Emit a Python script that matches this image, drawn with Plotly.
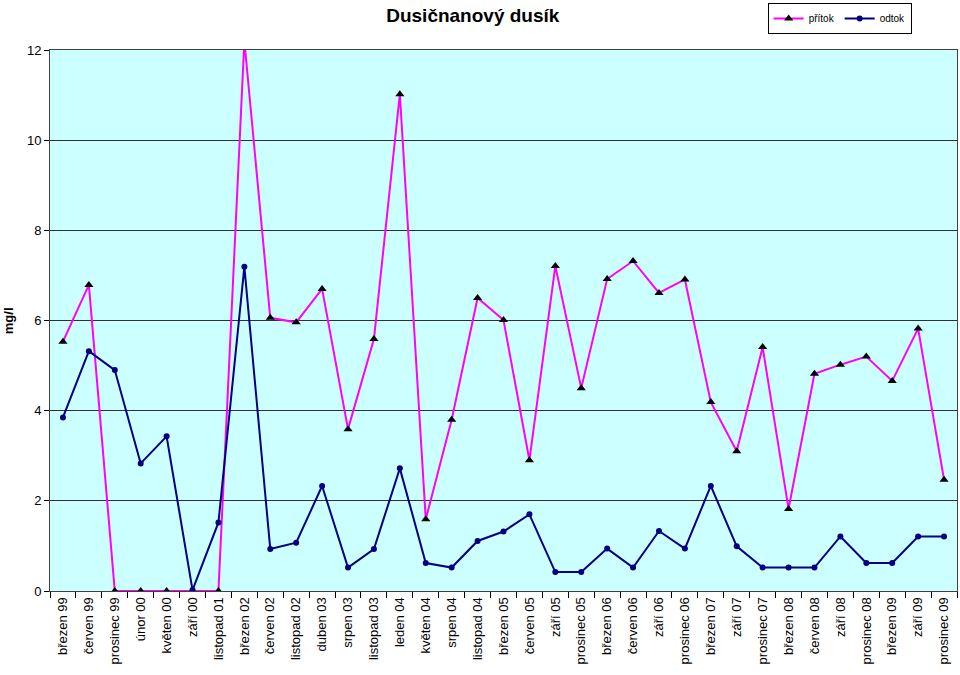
"""
Dusičnanový dusík - přítok / odtok
"""
import plotly.graph_objects as go

months = [
    'březen 99', 'červen 99', 'prosinec 99', 'únor 00', 'květen 00', 'září 00',
    'listopad 01', 'březen 02', 'červen 02', 'listopad 02', 'duben 03', 'srpen 03',
    'listopad 03', 'leden 04', 'květen 04', 'srpen 04', 'listopad 04', 'březen 05',
    'červen 05', 'září 05', 'prosinec 05', 'březen 06', 'červen 06', 'září 06',
    'prosinec 06', 'březen 07', 'září 07', 'prosinec 07', 'březen 08', 'červen 08',
    'září 08', 'prosinec 08', 'březen 09', 'září 09', 'prosinec 09'
]

pritok = [
    5.53, 6.79, 0, 0, 0, 0, 0, 12.2, 6.06, 5.96, 6.70, 3.59,
    5.59, 11.02, 1.59, 3.80, 6.50, 6.01, 2.90, 7.21, 4.50, 6.92,
    7.32, 6.61, 6.91, 4.19, 3.10, 5.41, 1.82, 4.82, 5.02, 5.20,
    4.66, 5.82, 2.47
]

odtok = [
    3.85, 5.32, 4.90, 2.83, 3.43, 0.02, 1.52, 7.19, 0.93, 1.07, 2.33, 0.52,
    0.93, 2.72, 0.62, 0.52, 1.11, 1.32, 1.70, 0.42, 0.42, 0.94,
    0.52, 1.33, 0.94, 2.33, 0.99, 0.52, 0.52, 0.52, 1.21, 0.62,
    0.62, 1.21, 1.21
]

y_ticks = [0, 2, 4, 6, 8, 10, 12]

fig = go.Figure()

fig.add_trace(go.Scatter(
    x=months, y=pritok, name='přítok',
    mode='lines+markers',
    line=dict(color='#FF00FF', width=2),
    marker=dict(symbol='triangle-up', size=8, color='black'),
    cliponaxis=True
))

fig.add_trace(go.Scatter(
    x=months, y=odtok, name='odtok',
    mode='lines+markers',
    line=dict(color='#000080', width=2),
    marker=dict(symbol='circle', size=6, color='#000080'),
    cliponaxis=True
))

# y axis title as a free annotation so it does not push the margin
fig.add_annotation(
    text='<b>mg/l</b>', textangle=-90,
    xref='paper', yref='paper', x=-0.0455, y=0.5,
    xanchor='center', yanchor='middle',
    showarrow=False, font=dict(size=13)
)

fig.update_layout(
    width=960,
    height=675,
    margin=dict(l=50, r=3, t=50, b=84),
    paper_bgcolor='white',
    plot_bgcolor='#CCFFFF',
    font=dict(family='Liberation Sans, Arial', size=13, color='black'),
    title=dict(
        text='<b>Dusičnanový dusík</b>',
        x=0.4925, xref='container', xanchor='center',
        y=0.978, yref='container', yanchor='middle',
        font=dict(size=19, family='Liberation Sans, Arial')
    ),
    legend=dict(
        orientation='h',
        x=0.95, xanchor='right',
        y=1.087, yanchor='top',
        bordercolor='black', borderwidth=1,
        bgcolor='white',
        font=dict(size=10),
        itemwidth=30,
        tracegroupgap=0
    ),
    xaxis=dict(
        type='category',
        range=[-0.5, len(months) - 0.5],
        tickangle=-90,
        ticks='outside', ticklen=6, tickcolor='black',
        tickson='boundaries',
        showgrid=False,
        showline=True, linecolor='#404040', linewidth=1,
        mirror=True,
        automargin=False,
        tickfont=dict(size=13)
    ),
    yaxis=dict(
        range=[0, 12],
        tickvals=y_ticks,
        ticks='outside', ticklen=5, tickcolor='black',
        showgrid=True, gridcolor='#303030', gridwidth=1,
        showline=True, linecolor='#404040', linewidth=1,
        mirror=True,
        zeroline=False,
        automargin=False,
        tickfont=dict(size=13)
    )
)

# drop the default page margin so the figure fills the window exactly
fig.write_html(
    "out.html",
    config={'displayModeBar': False},
    post_script="document.body.style.margin = '0';"
)
